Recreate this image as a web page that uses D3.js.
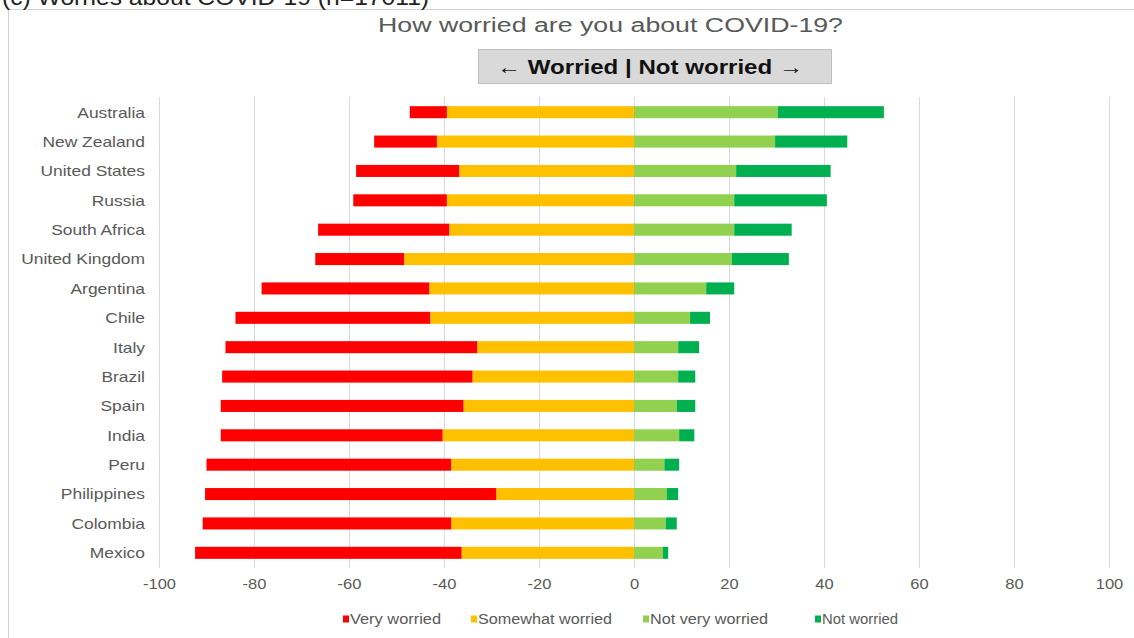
<!DOCTYPE html>
<html><head><meta charset="utf-8">
<script src="https://cdn.jsdelivr.net/npm/d3@7"></script>
<style>body{margin:0;background:#fff;}svg{display:block;font-family:Arial,"Liberation Sans",sans-serif;}</style>
</head><body>
<svg id="c" width="1134" height="638"></svg>
<script>
const countries = ["Australia","New Zealand","United States","Russia","South Africa","United Kingdom","Argentina","Chile","Italy","Brazil","Spain","India","Peru","Philippines","Colombia","Mexico"];
const veryWorried =     [7.8,13.2,21.7,19.7,27.6,18.7,35.3,41.0,53.0,52.7,51.1,46.7,51.5,61.3,52.3,56.1];
const somewhatWorried = [39.4,41.5,36.8,39.4,38.9,48.4,43.1,42.9,33.0,34.0,35.9,40.3,38.5,29.0,38.5,36.3];
const notVeryWorried =  [30.3,29.7,21.5,21.1,21.1,20.6,15.2,11.8,9.3,9.3,9.0,9.5,6.4,6.9,6.7,6.1];
const notWorried =      [22.3,15.2,19.9,19.5,12.1,12.0,5.9,4.2,4.4,3.6,3.9,3.2,3.1,2.4,2.3,1.1];
const tickValues = [-100,-80,-60,-40,-20,0,20,40,60,80,100];
const tickLabels = ["-100","-80","-60","-40","-20","0","20","40","60","80","100"];
const seriesNames = ["Very worried","Somewhat worried","Not very worried","Not worried"];
const seriesColors = ["#ff0000","#ffc000","#92d050","#00b050"];
const titleText = "How worried are you about COVID-19?";
const headerText = "\u2190 Worried | Not worried \u2192";
const captionText = "(c) Worries about COVID-19 (n=17011)";

const rows = countries.map((c,i)=>({country:c,
  "Very worried":-veryWorried[i],"Somewhat worried":-somewhatWorried[i],
  "Not very worried":notVeryWorried[i],"Not worried":notWorried[i]}));
const stackKeys = ["Somewhat worried","Very worried","Not very worried","Not worried"];
const stacked = d3.stack().keys(stackKeys).offset(d3.stackOffsetDiverging)(rows);
const color = d3.scaleOrdinal().domain(seriesNames).range(seriesColors);

// the reference text is horizontally stretched; mimic it
function stretch(sel, f){
  sel.each(function(){
    const w = this.getComputedTextLength();
    d3.select(this).attr("textLength", w*f).attr("lengthAdjust","spacingAndGlyphs");
  });
}

const svg = d3.select("#c");
const x = d3.scaleLinear().domain([-100,100]).range([159,1109]);
const y = d3.scaleBand().domain(countries).range([97.5,567.5]).paddingInner(0.59).paddingOuter(0.295);

// outer frame
svg.append("rect").attr("x",8.5).attr("y",9.5).attr("width",1140).attr("height",640)
  .attr("fill","none").attr("stroke","#d0d0d0").attr("stroke-width",1);
svg.append("text").attr("x",2).attr("y",5).attr("font-size",22).attr("fill","#222").text(captionText)
  .call(stretch,1.12);

svg.append("text").attr("x",378).attr("y",32)
  .attr("font-size",20).attr("fill","#595959").text(titleText)
  .attr("textLength",465).attr("lengthAdjust","spacingAndGlyphs");
svg.append("rect").attr("x",478.5).attr("y",49.5).attr("width",353).attr("height",34)
  .attr("fill","#d9d9d9").attr("stroke","#bfbfbf");
svg.append("text").attr("x",497).attr("y",74)
  .attr("font-size",20).attr("font-weight","bold").attr("fill","#111").text(headerText)
  .attr("textLength",306).attr("lengthAdjust","spacingAndGlyphs");

// gridlines
svg.append("g").selectAll("line").data(tickValues).join("line")
  .attr("x1",d=>x(d)+0.5).attr("x2",d=>x(d)+0.5).attr("y1",97).attr("y2",568)
  .attr("stroke","#d9d9d9").attr("stroke-width",1);

// bars
svg.append("g").selectAll("g").data(stacked).join("g").attr("fill",s=>color(s.key))
  .selectAll("rect").data(s=>s).join("rect")
  .attr("x",d=>x(Math.min(d[0],d[1]))).attr("width",d=>Math.abs(x(d[1])-x(d[0])))
  .attr("y",d=>y(d.data.country)).attr("height",y.bandwidth());

// country labels
svg.append("g").selectAll("text").data(countries).join("text")
  .attr("x",145).attr("y",d=>y(d)+y.bandwidth()/2).attr("dy","0.36em")
  .attr("text-anchor","end").attr("font-size",15).attr("fill","#595959").text(d=>d)
  .call(stretch,1.16);

// x axis labels
const xAxis = d3.axisBottom(x).tickValues(tickValues).tickSize(0).tickPadding(0)
  .tickFormat((d,i)=>tickLabels[i]);
const gx = svg.append("g").attr("transform","translate(0,578)").call(xAxis);
gx.select(".domain").remove();
gx.selectAll("text").attr("font-size",15).attr("fill","#595959")
  .attr("font-family","Arial,'Liberation Sans',sans-serif").call(stretch,1.1);

// legend
const legendX = [343,471,643,815];
const legendTextW = [91,134,118,76];
const lg = svg.append("g").selectAll("g").data(seriesNames).join("g")
  .attr("transform",(d,i)=>`translate(${legendX[i]},619)`);
lg.append("rect").attr("x",0).attr("y",-3.5).attr("width",6).attr("height",7).attr("fill",d=>color(d));
lg.append("text").attr("x",7).attr("y",0).attr("dy","0.35em").attr("font-size",14).attr("fill","#595959").text(d=>d)
  .attr("textLength",(d,i)=>legendTextW[i]).attr("lengthAdjust","spacingAndGlyphs");
</script>
</body></html>
